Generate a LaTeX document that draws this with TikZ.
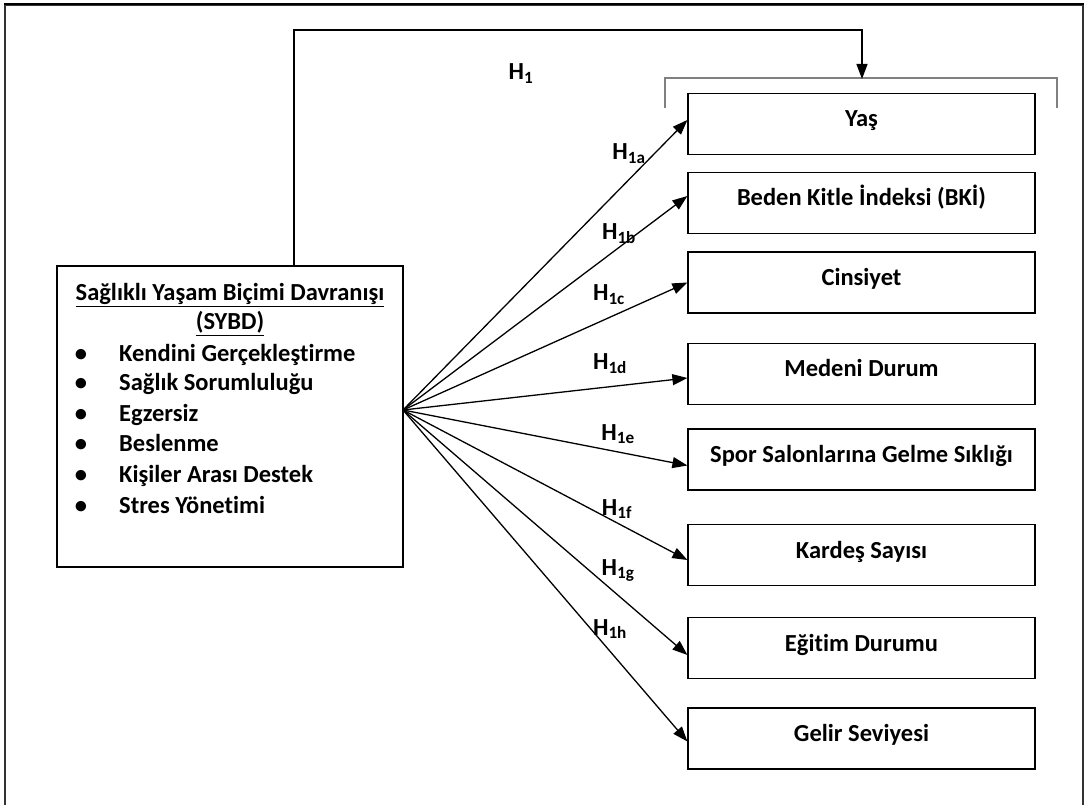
\documentclass[tikz,border=0pt]{standalone}
\usepackage{fontspec}
\setmainfont{Carlito}[Ligatures=NoCommon]
\usetikzlibrary{arrows.meta}
\begin{document}
\begin{tikzpicture}[x=1pt,y=-1pt,
  txt/.style={font=\fontsize{24.5}{28}\selectfont\bfseries},
  box/.style={txt,draw,line width=1.2pt,minimum width=347pt,minimum height=61pt,inner sep=0pt,text height=18pt,text depth=12pt},
  lbl/.style={txt,inner sep=0pt,text height=16pt,text depth=0pt},
  item/.style={txt,anchor=west,inner sep=0pt,text height=16pt,text depth=0pt},
  conn/.style={line width=1.3pt,-{Triangle[length=15pt,width=11pt]}},
  brk/.style={line width=2pt,draw=black!50}]
\useasboundingbox (0,0) rectangle (1088,805);
\fill[white] (0,0) rectangle (1088,805);
% outer frame
\draw[line width=1.5pt,black!80] (5,812) -- (5,5) -- (1083,5) -- (1083,812);
\draw[line width=2.5pt] (4,4) -- (1084,4);
% left box
\node[draw,line width=1.2pt,minimum width=346pt,minimum height=301pt,inner sep=0pt] (L) at (230,416.5) {};
\node[lbl] (t1) at (230,293) {\underline{Sağlıklı Yaşam Biçimi Davranışı}};
\node[lbl] (t2) at (230,322) {\underline{(SYBD)}};
\foreach \y/\t [count=\i] in {353/Kendini Gerçekleştirme,382/Sağlık Sorumluluğu,413/Egzersiz,443/Beslenme,474/Kişiler Arası Destek,505/Stres Yönetimi}{
  \node[lbl] (b\i) at (81,\y) {•};
  \node[item] (i\i) at (119,\y) {\t};
}
% right boxes
\node[box] (Yas) at (861.5,124) {Yaş};
\node[box] (BKI) at (861.5,203) {Beden Kitle İndeksi (BKİ)};
\node[box] (Cin) at (861.5,282.5) {Cinsiyet};
\node[box] (Med) at (861.5,374) {Medeni Durum};
\node[box] (Spo) at (861.5,459.5) {Spor Salonlarına Gelme Sıklığı};
\node[box] (Kar) at (861.5,555) {Kardeş Sayısı};
\node[box] (Egi) at (861.5,648) {Eğitim Durumu};
\node[box] (Gel) at (861.5,738.5) {Gelir Seviyesi};
% bracket
\coordinate (bL) at (665,108);
\coordinate (bR) at (1057,108);
\coordinate (bC) at (862,78);
\draw[brk] (bL) -- (665,78) -- (1057,78) -- (bR);
% H1 connector
\coordinate (top) at (862,30);
\draw[conn] ([xshift=64pt]L.north) |- (top) -- ([yshift=-1pt]bC);
\node[lbl] (H1) at (521,72) {H\textsubscript{1}};
% source
\coordinate (src) at (403,410);
\draw[conn] (src) -- ([yshift=4pt]Yas.west);
\draw[conn] (src) -- ([yshift=7pt]BKI.west);
\draw[conn] (src) -- ([yshift=0pt]Cin.west);
\draw[conn] (src) -- ([yshift=-4pt]Med.west);
\draw[conn] (src) -- ([yshift=-6pt]Spo.west);
\draw[conn] (src) -- ([yshift=-5pt]Kar.west);
\draw[conn] (src) -- ([yshift=-7pt]Egi.west);
\draw[conn] (src) -- ([yshift=-3pt]Gel.west);
% labels
\node[lbl] (h1a) at (629,152) {H\textsubscript{1a}};
\node[lbl] (h1b) at (619,232) {H\textsubscript{1b}};
\node[lbl] (h1c) at (609,293) {H\textsubscript{1c}};
\node[lbl] (h1d) at (610,362) {H\textsubscript{1d}};
\node[lbl] (h1e) at (618,432) {H\textsubscript{1e}};
\node[lbl] (h1f) at (617,507) {H\textsubscript{1f}};
\node[lbl] (h1g) at (618,567) {H\textsubscript{1g}};
\node[lbl] (h1h) at (610,627) {H\textsubscript{1h}};
\end{tikzpicture}
\end{document}
